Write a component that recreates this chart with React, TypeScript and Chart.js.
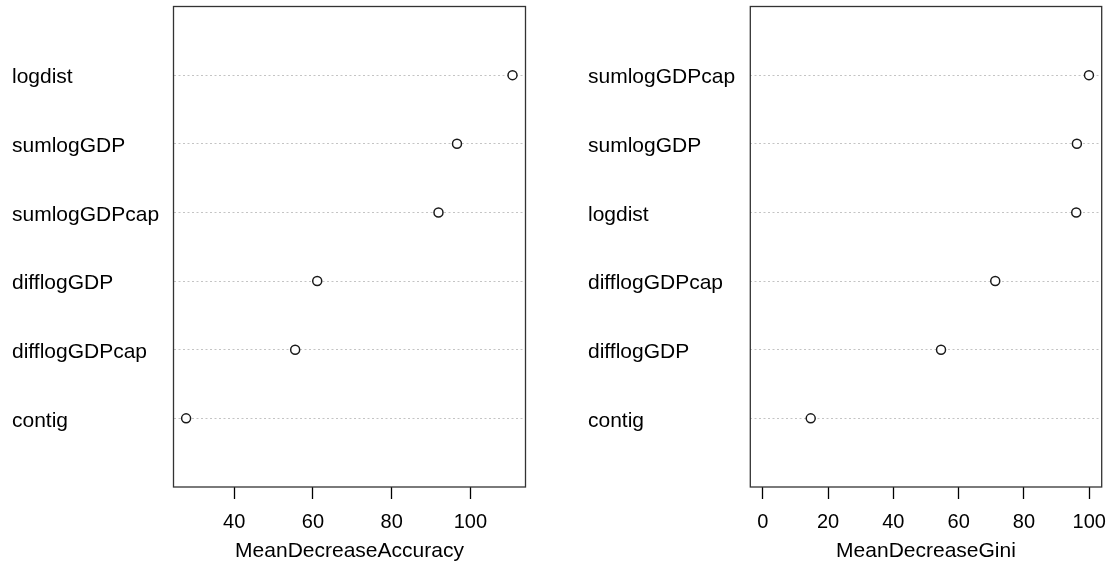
import React, { useEffect, useRef } from "react";
import { Chart, registerables } from "chart.js";

Chart.register(...registerables);

const accLabels = ["logdist", "sumlogGDP", "sumlogGDPcap", "difflogGDP", "difflogGDPcap", "contig"];
const accValues = [110.7, 96.6, 91.9, 61.1, 55.5, 27.8];
const accTicks = [40, 60, 80, 100];

const giniLabels = ["sumlogGDPcap", "sumlogGDP", "logdist", "difflogGDPcap", "difflogGDP", "contig"];
const giniValues = [99.9, 96.2, 96.0, 71.2, 54.6, 14.7];
const giniTicks = [0, 20, 40, 60, 80, 100];

const FONT = "'Liberation Sans', Arial, sans-serif";

const framePlugin = {
  id: "frame",
  afterDraw(chart: any) {
    const { left, top, right, bottom } = chart.chartArea;
    const ctx = chart.ctx;
    ctx.save();
    ctx.strokeStyle = "#333333";
    ctx.lineWidth = 1.3;
    ctx.strokeRect(left, top, right - left, bottom - top);
    ctx.restore();
  },
};

function makeConfig(
  labels: string[],
  values: number[],
  ticks: number[],
  xmin: number,
  xmax: number,
  title: string,
  pad: { left: number; right: number; top: number; bottom: number },
  yWidth: number,
  xHeight: number
): any {
  const n = labels.length;
  const points = values.map((v, i) => ({ x: v, y: n - i }));
  return {
    type: "scatter",
    data: {
      datasets: [
        {
          data: points,
          pointStyle: "circle",
          pointRadius: 4.5,
          pointBorderWidth: 1.5,
          pointBorderColor: "#1a1a1a",
          pointBackgroundColor: "#ffffff",
          showLine: false,
        },
      ],
    },
    plugins: [framePlugin],
    options: {
      responsive: false,
      animation: false,
      layout: { padding: pad },
      plugins: { legend: { display: false }, tooltip: { enabled: false } },
      scales: {
        x: {
          type: "linear",
          min: xmin,
          max: xmax,
          afterBuildTicks: (s: any) => {
            s.ticks = ticks.map((v) => ({ value: v }));
          },
          afterFit: (s: any) => {
            s.height = xHeight;
            s.paddingLeft = 0;
            s.paddingRight = 0;
          },
          grid: {
            drawOnChartArea: false,
            drawTicks: true,
            tickLength: 12,
            tickColor: "#000000",
            tickWidth: 1.3,
            color: "#000000",
          },
          border: { display: false },
          ticks: {
            color: "#000000",
            font: { family: FONT, size: 20 },
            padding: 11.5,
            maxRotation: 0,
            autoSkip: false,
          },
          title: {
            display: true,
            text: title,
            color: "#000000",
            font: { family: FONT, size: 21 },
            padding: { top: 0, bottom: 0 },
          },
        },
        y: {
          type: "linear",
          min: 0,
          max: n + 1,
          afterBuildTicks: (s: any) => {
            s.ticks = labels.map((_, i) => ({ value: i + 1 }));
          },
          afterFit: (s: any) => {
            s.width = yWidth;
            s.paddingTop = 0;
            s.paddingBottom = 0;
          },
          grid: {
            drawTicks: false,
            color: "#c4c4c4",
            lineWidth: 1,
          },
          border: { display: false, dash: [2, 2.5] },
          ticks: {
            crossAlign: "far",
            color: "#000000",
            font: { family: FONT, size: 21 },
            autoSkip: false,
            padding: 0,
            labelOffset: 2.5,
            callback: (v: number) => labels[n - v],
          },
        },
      },
    },
  };
}

function DotChart(props: {
  labels: string[];
  values: number[];
  ticks: number[];
  xmin: number;
  xmax: number;
  title: string;
  pad: { left: number; right: number; top: number; bottom: number };
  yWidth: number;
  xHeight: number;
  left: number;
  width: number;
}) {
  const ref = useRef<HTMLCanvasElement | null>(null);
  useEffect(() => {
    if (!ref.current) return;
    const chart = new Chart(
      ref.current,
      makeConfig(
        props.labels,
        props.values,
        props.ticks,
        props.xmin,
        props.xmax,
        props.title,
        props.pad,
        props.yWidth,
        props.xHeight
      )
    );
    return () => chart.destroy();
  }, []);
  return (
    <canvas
      ref={ref}
      width={props.width}
      height={568}
      style={{ position: "absolute", left: props.left, top: 0, width: props.width, height: 568, display: "block" }}
    />
  );
}

export default function App() {
  return (
    <div style={{ position: "absolute", left: 0, top: 0, width: 1114, height: 568, background: "#ffffff", overflow: "hidden" }}>
      <DotChart
        labels={accLabels}
        values={accValues}
        ticks={accTicks}
        xmin={24.6}
        xmax={114}
        title="MeanDecreaseAccuracy"
        pad={{ left: 12, right: 31.5, top: 6.5, bottom: 3.7 }}
        yWidth={161.5}
        xHeight={77.3}
        left={0}
        width={557}
      />
      <DotChart
        labels={giniLabels}
        values={giniValues}
        ticks={giniTicks}
        xmin={-3.8}
        xmax={103.8}
        title="MeanDecreaseGini"
        pad={{ left: 31, right: 12.3, top: 6.5, bottom: 3.7 }}
        yWidth={162.3}
        xHeight={77.3}
        left={557}
        width={557}
      />
    </div>
  );
}
